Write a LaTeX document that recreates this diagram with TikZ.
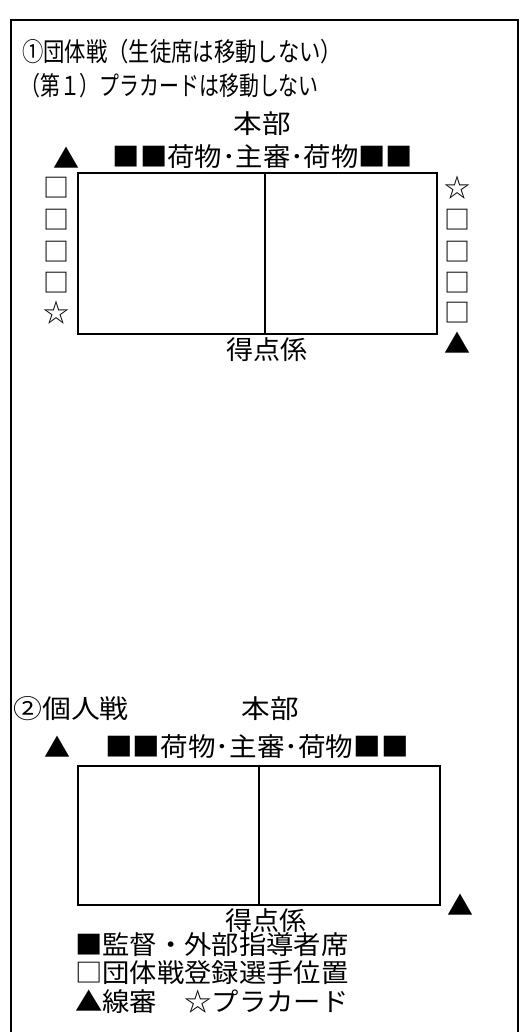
\documentclass[tikz,border=0pt]{standalone}
\usepackage{fontspec}
\setmainfont{Noto Sans CJK JP}
\usetikzlibrary{positioning}

\newcommand{\wide}[2]{\scalebox{#1}[1]{#2}}

\tikzset{
  court/.style={line width=1.4pt},
  txt/.style={inner sep=0pt}
}

\begin{document}
\begin{tikzpicture}[x=0.025cm, y=-0.025cm, font=\fontsize{18.5}{22}\selectfont]
\useasboundingbox (0,0) rectangle (521,1032);

% outer frame
\draw[line width=2pt] (11,1032) -- (11,20) -- (518,20) -- (518,1032);

% (1) team match
\node[txt, anchor=west] (title1) at (22,52) {\wide{0.82}{①団体戦（生徒席は移動しない）}};
\node[txt, anchor=west] (note1) at (20,86) {\wide{0.765}{（第１）プラカードは移動しない}};
\node[txt] (hq1) at (262,124) {\wide{1.1}{本部}};
\node[txt] (seats1) at (263,157) {\wide{1.05}{■■荷物･主審･荷物■■}};
\node[txt] (judgeA) at (67,158) {▲};

\draw[court] (78,173) rectangle (437,334);
\draw[court] (265,173) -- (265,334);

\foreach \y [count=\i] in {188,220,252,283}
  \node[txt] (left\i) at (57,\y) {□};
\node[txt] (flagA) at (57,313) {☆};

\node[txt] (flagB) at (458,188) {☆};
\foreach \y [count=\i] in {220,252,283,313}
  \node[txt] (right\i) at (458,\y) {□};
\node[txt] (judgeB) at (458,343) {▲};

\node[txt] (score1) at (267,350) {\wide{1.04}{得点係}};

% (2) individual match
\node[txt, anchor=west] (title2) at (13,709) {\wide{1.11}{②個人戦}};
\node[txt] (hq2) at (270,709) {\wide{1.1}{本部}};
\node[txt] (seats2) at (257,747) {\wide{1.06}{■■荷物･主審･荷物■■}};
\node[txt] (judgeC) at (58,747) {▲};

\draw[court] (78,766) rectangle (440,905);
\draw[court] (259,766) -- (259,905);

\node[txt] (judgeD) at (461,905) {▲};
\node[txt] (score2) at (266,921) {\wide{1.04}{得点係}};

% legend
\node[txt, anchor=west] (key1) at (75,945) {\wide{1.05}{■監督・外部指導者席}};
\node[txt, anchor=west] (key2) at (75,973) {\wide{1.05}{□団体戦登録選手位置}};
\node[txt, anchor=west] (key3) at (75,1002) {\wide{1.05}{▲線審　☆プラカード}};

\end{tikzpicture}
\end{document}
